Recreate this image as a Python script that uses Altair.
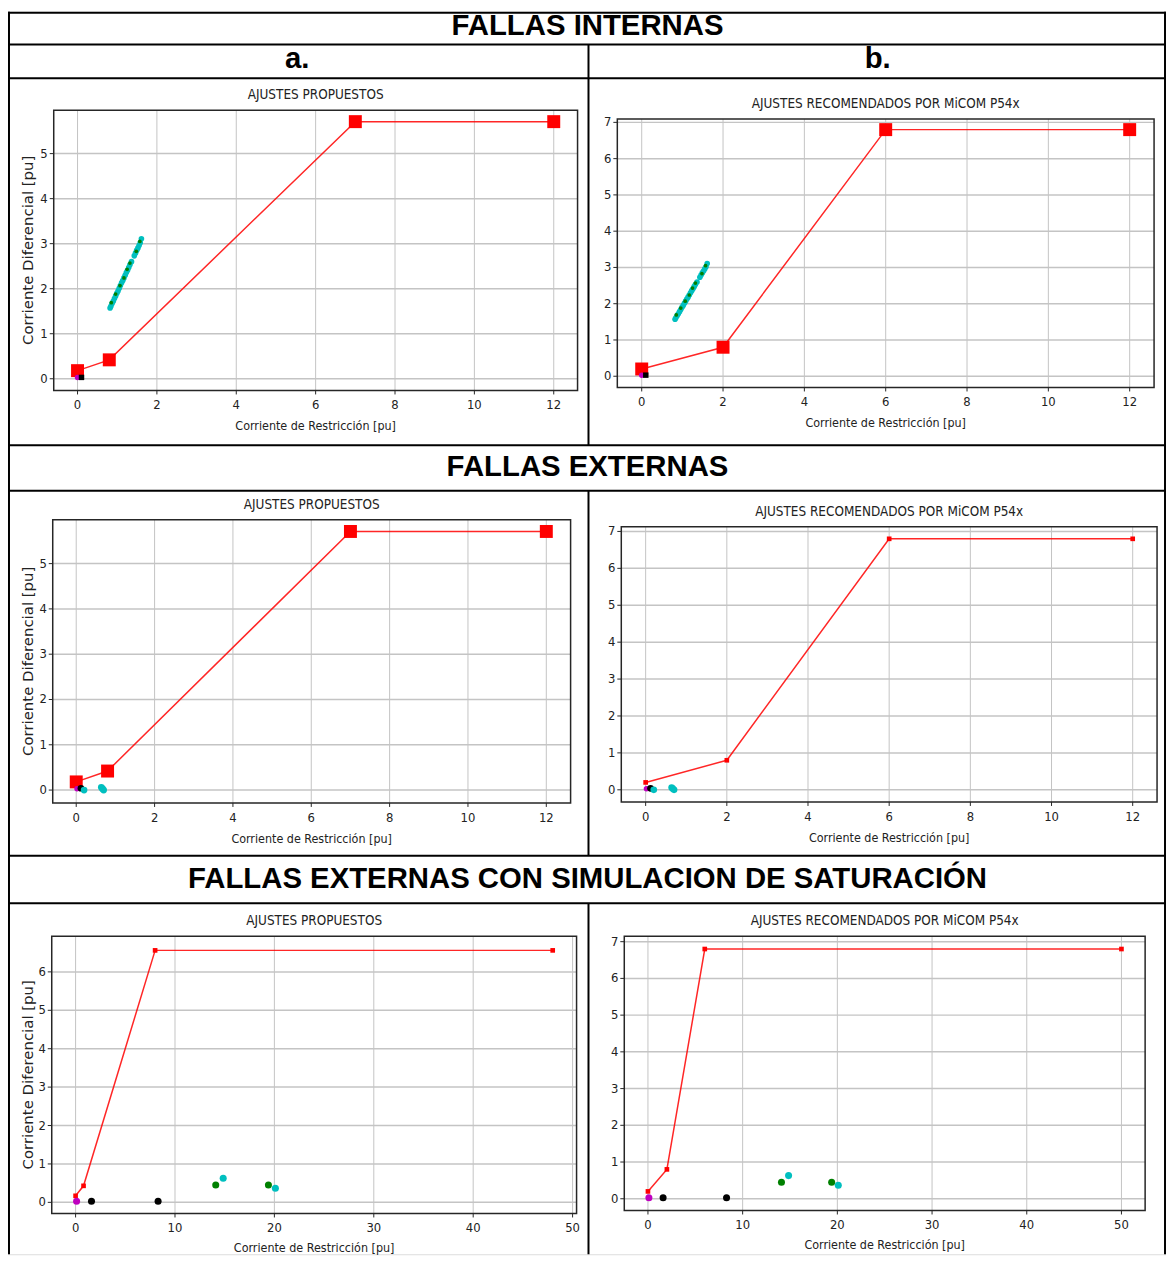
import altair as alt
import pandas as pd

# ---------------- data ----------------
ticks_x12 = [0, 2, 4, 6, 8, 10, 12]
ticks_x50 = [0, 10, 20, 30, 40, 50]
ticks_y5 = [0, 1, 2, 3, 4, 5]
ticks_y6 = [0, 1, 2, 3, 4, 5, 6]
ticks_y7 = [0, 1, 2, 3, 4, 5, 6, 7]

# characteristic curves (restraint current, differential current)
prop_x = [0, 0.8, 7, 12]
prop_y = [0.18, 0.42, 5.71, 5.71]
micom_x = [0, 2, 6, 12]
micom_y = [0.2, 0.8, 6.8, 6.8]
prop_sat_x = [0, 0.8, 8, 48]
prop_sat_y = [0.17, 0.43, 6.56, 6.56]
micom_sat_x = [0, 2, 6, 50]
micom_sat_y = [0.2, 0.8, 6.8, 6.8]

# internal faults measurements
int_cyan_x = [0.82, 0.84, 0.87, 0.90, 0.93, 0.96, 0.99, 1.02, 1.05, 1.08, 1.11, 1.14, 1.17,
              1.20, 1.23, 1.26, 1.29, 1.32, 1.36, 1.43, 1.46, 1.49, 1.52, 1.55, 1.58, 1.61]
int_cyan_y = [1.57, 1.61, 1.67, 1.72, 1.78, 1.84, 1.90, 1.95, 2.01, 2.07, 2.13, 2.18, 2.24,
              2.30, 2.36, 2.41, 2.47, 2.53, 2.60, 2.73, 2.79, 2.85, 2.90, 2.96, 3.02, 3.11]
int_green_x = [0.85, 0.96, 1.07, 1.17, 1.25, 1.32, 1.48, 1.57]
int_green_y = [1.69, 1.88, 2.07, 2.24, 2.43, 2.57, 2.83, 3.05]
int_mag_x = [0.0]
int_mag_y = [0.03]
int_blk_x = [0.1]
int_blk_y = [0.03]

# external faults measurements
ext_mag_x = [0.02]
ext_mag_y = [0.03]
ext_blk_x = [0.12]
ext_blk_y = [0.04]
ext_cyan_x = [0.2, 0.64, 0.67, 0.70]
ext_cyan_y = [0.0, 0.06, 0.03, 0.0]

# external faults with CT saturation
sat_mag_x = [0.1]
sat_mag_y = [0.03]
sat_blk_x = [1.6, 8.3]
sat_blk_y = [0.03, 0.03]
sat_green_x = [14.1, 19.4]
sat_green_y = [0.45, 0.45]
sat_cyan_x = [14.85, 20.1]
sat_cyan_y = [0.63, 0.37]

TITLE_L = "AJUSTES PROPUESTOS"
TITLE_R = "AJUSTES RECOMENDADOS POR MiCOM P54x"
XTITLE = "Corriente de Restricción [pu]"
YTITLE = "Corriente Diferencial [pu]"
HEADERS = ["FALLAS INTERNAS", "a.", "b.", "FALLAS EXTERNAS",
           "FALLAS EXTERNAS CON SIMULACION DE SATURACIÓN"]

# ---------------- styling ----------------
NARROW = "Liberation Sans Narrow, DejaVu Sans Condensed, Liberation Sans, Arial, sans-serif"
YFONT = "DejaVu Sans, sans-serif"
HFONT = "Liberation Sans, Arial, sans-serif"
GRID = "#c4c4c4"
FRAME = "#262626"
RED = "#ff0000"
CYAN = "#00bfbf"
GREEN = "#008000"
MAG = "#bf00bf"
BLK = "#000000"

W, H = 1165, 1250


def one(**kw):
    return pd.DataFrame({k: [v] for k, v in kw.items()} or {"k": [0]})


def panel(box, xdom, ydom, xticks, yticks, title, ytitle, curve, msize, series, xgap=36):
    x0, x1, y0, y1 = box
    xs = alt.Scale(domain=xdom, range=[x0, x1], nice=False, zero=False)
    ys = alt.Scale(domain=ydom, range=[y1, y0], nice=False, zero=False)

    def X(f):
        return alt.X(f, type="quantitative", scale=xs, axis=None)

    def Y(f):
        return alt.Y(f, type="quantitative", scale=ys, axis=None)

    xt = pd.DataFrame({"v": xticks})
    yt = pd.DataFrame({"v": yticks})
    L = []
    L.append(alt.Chart(xt).mark_rule(color=GRID, strokeWidth=1).encode(
        x=X("v"),
        y=alt.YDatum(ydom[0], type="quantitative", scale=ys, axis=None),
        y2=alt.Y2Datum(ydom[1])))
    L.append(alt.Chart(yt).mark_rule(color=GRID, strokeWidth=1.5).encode(
        y=Y("v"),
        x=alt.XDatum(xdom[0], type="quantitative", scale=xs, axis=None),
        x2=alt.X2Datum(xdom[1])))
    L.append(alt.Chart(one()).mark_rect(fillOpacity=0, stroke=FRAME, strokeWidth=1.5).encode(
        x=alt.XDatum(xdom[0], type="quantitative", scale=xs, axis=None),
        x2=alt.X2Datum(xdom[1]),
        y=alt.YDatum(ydom[0], type="quantitative", scale=ys, axis=None),
        y2=alt.Y2Datum(ydom[1])))
    L.append(alt.Chart(xt).mark_rule(color=FRAME, strokeWidth=1).encode(
        x=X("v"), y=alt.value(y1), y2=alt.value(y1 + 4)))
    L.append(alt.Chart(yt).mark_rule(color=FRAME, strokeWidth=1).encode(
        y=Y("v"), x=alt.value(x0 - 4), x2=alt.value(x0)))
    L.append(alt.Chart(xt).mark_text(font=NARROW, fontSize=13, color="#222", baseline="middle").encode(
        x=X("v"), y=alt.value(y1 + 15), text=alt.Text("v:Q", format="d")))
    L.append(alt.Chart(yt).mark_text(font=NARROW, fontSize=13, color="#222", align="right",
                                     baseline="middle").encode(
        y=Y("v"), x=alt.value(x0 - 6), text=alt.Text("v:Q", format="d")))
    L.append(alt.Chart(one(t=title)).mark_text(font=NARROW, fontSize=13.5, color="#222",
                                               baseline="middle").encode(
        x=alt.value((x0 + x1) / 2), y=alt.value(y0 - 15), text="t:N"))
    L.append(alt.Chart(one(t=XTITLE)).mark_text(font=NARROW, fontSize=12.5, color="#222",
                                                baseline="middle").encode(
        x=alt.value((x0 + x1) / 2), y=alt.value(y1 + xgap), text="t:N"))
    if ytitle:
        L.append(alt.Chart(one(t=YTITLE)).mark_text(font=YFONT, fontSize=15, color="#222", angle=270,
                                                    baseline="middle").encode(
            x=alt.value(20), y=alt.value((y0 + y1) / 2), text="t:N"))
    cdf = pd.DataFrame({"x": curve[0], "y": curve[1]})
    L.append(alt.Chart(cdf).mark_line(color=RED, strokeWidth=1.5, opacity=0.85).encode(
        x=X("x"), y=Y("y")))
    L.append(alt.Chart(cdf).mark_point(shape="square", filled=True, color=RED, opacity=1,
                                       size=msize).encode(x=X("x"), y=Y("y")))
    for sx, sy, col, shape, size in series:
        sdf = pd.DataFrame({"x": sx, "y": sy})
        L.append(alt.Chart(sdf).mark_point(shape=shape, filled=True, color=col, opacity=1,
                                           size=size).encode(x=X("x"), y=Y("y")))
    return alt.layer(*L)


def hrule(y, xa, xb):
    return alt.Chart(one()).mark_rule(color="black", strokeWidth=2).encode(
        y=alt.value(y), x=alt.value(xa), x2=alt.value(xb))


def vrule(x, ya, yb):
    return alt.Chart(one()).mark_rule(color="black", strokeWidth=2).encode(
        x=alt.value(x), y=alt.value(ya), y2=alt.value(yb))


def header(text, cx, cy, size=29.5):
    return alt.Chart(one(t=text)).mark_text(font=HFONT, fontSize=size, fontWeight="bold",
                                            color="black", baseline="middle").encode(
        x=alt.value(cx), y=alt.value(cy), text="t:N")


internal_series = [
    (int_cyan_x, int_cyan_y, CYAN, "circle", 32),
    (int_green_x, int_green_y, GREEN, "circle", 14),
    (int_mag_x, int_mag_y, MAG, "circle", 30),
    (int_blk_x, int_blk_y, BLK, "square", 30),
]
external_series = [
    (ext_mag_x, ext_mag_y, MAG, "circle", 30),
    (ext_blk_x, ext_blk_y, BLK, "circle", 45),
    (ext_cyan_x, ext_cyan_y, CYAN, "circle", 45),
]
sat_series = [
    (sat_mag_x, sat_mag_y, MAG, "circle", 50),
    (sat_blk_x, sat_blk_y, BLK, "circle", 50),
    (sat_green_x, sat_green_y, GREEN, "circle", 50),
    (sat_cyan_x, sat_cyan_y, CYAN, "circle", 50),
]

panels = [
    panel((46, 573, 99, 381), [-0.6, 12.6], [-0.26, 5.965], ticks_x12, ticks_y5, TITLE_L, True,
          (prop_x, prop_y), 170, internal_series),
    panel((613, 1153, 108, 378), [-0.6, 12.6], [-0.31, 7.09], ticks_x12, ticks_y7, TITLE_R, False,
          (micom_x, micom_y), 170, internal_series),
    panel((45, 566, 511, 796), [-0.6, 12.62], [-0.285, 5.97], ticks_x12, ticks_y5, TITLE_L, True,
          (prop_x, prop_y), 170, external_series),
    panel((617, 1156, 518, 795), [-0.6, 12.6], [-0.33, 7.13], ticks_x12, ticks_y7, TITLE_R, False,
          (micom_x, micom_y), 22, external_series),
    panel((44, 572, 930, 1209), [-2.4, 50.4], [-0.29, 6.93], ticks_x50, ticks_y6, TITLE_L, True,
          (prop_sat_x, prop_sat_y), 22, sat_series, xgap=35),
    panel((620, 1144, 930, 1206), [-2.5, 52.5], [-0.32, 7.15], ticks_x50, ticks_y7, TITLE_R, False,
          (micom_sat_x, micom_sat_y), 22, sat_series, xgap=35),
]

deco = [
    hrule(1, 0, W), hrule(33, 0, W), hrule(67, 0, W), hrule(436, 0, W),
    hrule(482, 0, W), hrule(849, 0, W), hrule(897, 0, W),
    vrule(1, 0, H), vrule(1164, 0, H),
    vrule(584, 33, 436), vrule(584, 482, 849), vrule(584, 897, H),
    header(HEADERS[0], 583, 14),
    header(HEADERS[1], 291, 48),
    header(HEADERS[2], 875, 48),
    header(HEADERS[3], 583, 458),
    header(HEADERS[4], 583, 873),
]

chart = alt.layer(*deco, *panels).resolve_scale(x="independent", y="independent").properties(
    width=W, height=H, padding=0, autosize=alt.AutoSizeParams(type="none")
).configure_view(strokeWidth=0).configure(background="white")

chart.save("out.html", embed_options={"renderer": "svg", "actions": False})
